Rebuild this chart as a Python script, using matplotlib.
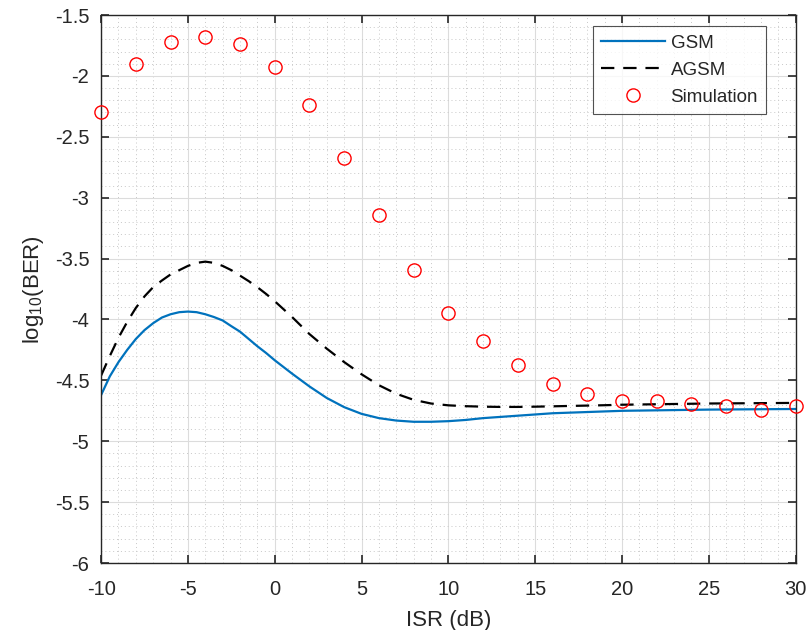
import numpy as np
import matplotlib
matplotlib.use('Agg')
import matplotlib.pyplot as plt
from matplotlib.ticker import MultipleLocator, FormatStrFormatter

# ISR axis (dB): half-dB steps over the peak, then 1 dB steps
isr = np.concatenate([np.arange(-10, 0, 0.5), np.arange(0, 31)])

# analytical curves
gsm = [-4.62, -4.467, -4.35, -4.25, -4.16, -4.087, -4.03, -3.984, -3.957, -3.94,
       -3.935, -3.94, -3.957, -3.98, -4.008, -4.055, -4.10, -4.16, -4.22, -4.275,
       -4.335, -4.445, -4.55, -4.645, -4.72, -4.775, -4.81, -4.83, -4.84, -4.84,
       -4.835, -4.825, -4.81, -4.80, -4.79, -4.78, -4.77, -4.765, -4.76, -4.755,
       -4.75, -4.748, -4.746, -4.744, -4.742, -4.74, -4.739, -4.738, -4.737, -4.736,
       -4.735]
agsm = [-4.46, -4.30, -4.15, -4.02, -3.905, -3.81, -3.734, -3.68, -3.63, -3.595,
        -3.56, -3.535, -3.525, -3.535, -3.56, -3.595, -3.64, -3.685, -3.735, -3.79,
        -3.85, -3.98, -4.12, -4.24, -4.35, -4.45, -4.54, -4.61, -4.66, -4.69,
        -4.705, -4.712, -4.716, -4.718, -4.718, -4.716, -4.713, -4.71, -4.707, -4.704,
        -4.70, -4.698, -4.696, -4.694, -4.692, -4.69, -4.689, -4.688, -4.687, -4.686,
        -4.685]

# simulation points
isr_sim = list(range(-10, 31, 2))
sim = [-2.30, -1.90, -1.72, -1.68, -1.74, -1.93, -2.24, -2.67, -3.14, -3.59,
       -3.95, -4.18, -4.37, -4.53, -4.61, -4.67, -4.67, -4.69, -4.71, -4.74,
       -4.71]

plt.rcParams['font.family'] = ['Liberation Sans', 'DejaVu Sans']
plt.rcParams['mathtext.default'] = 'regular'
plt.rcParams['axes.unicode_minus'] = False

text_col = '#262626'
fig = plt.figure(figsize=(8.09, 6.3), dpi=100)
ax = fig.add_axes([0.125, 0.1063, 0.8585, 0.8698])

ax.plot(isr, gsm, color='#0072BD', lw=1.6, label='GSM')
ax.plot(isr, agsm, color='black', lw=1.6, ls=(0, (6, 4)), label='AGSM')
ax.plot(isr_sim, sim, ls='none', marker='o', ms=9.5, mfc='none', mec='red',
        mew=1.0, label='Simulation', clip_on=False, zorder=5)

ax.set_xlim(-10, 30)
ax.set_ylim(-6, -1.5)
ax.xaxis.set_major_locator(MultipleLocator(5))
ax.xaxis.set_minor_locator(MultipleLocator(1))
ax.yaxis.set_major_locator(MultipleLocator(0.5))
ax.yaxis.set_minor_locator(MultipleLocator(0.1))
ax.xaxis.set_major_formatter(FormatStrFormatter('%g'))
ax.yaxis.set_major_formatter(FormatStrFormatter('%g'))

ax.grid(which='major', color='#dcdcdc', lw=0.8, ls='-')
ax.grid(which='minor', color='#c8c8c8', lw=0.7, ls=(0, (1, 3)))
ax.set_axisbelow(True)

ax.tick_params(which='both', direction='in', top=True, right=True,
               colors=text_col, labelsize=14.5)
ax.tick_params(axis='x', pad=12)
ax.tick_params(axis='y', pad=8.5)
ax.tick_params(which='major', length=6, width=1.2)
ax.tick_params(which='minor', length=0)
for sp in ax.spines.values():
    sp.set_color(text_col)
    sp.set_linewidth(1.0)

ax.set_xlabel('ISR (dB)', fontsize=16, color=text_col, labelpad=8)
ax.set_ylabel('log$_{10}$(BER)', fontsize=16, color=text_col, labelpad=6)

leg = ax.legend(loc='upper right', bbox_to_anchor=(0.958, 0.98), fontsize=13.5,
                frameon=True, fancybox=False, edgecolor='#262626',
                handlelength=3.4, handletextpad=0.3, borderpad=0.45,
                labelspacing=0.53, borderaxespad=0)
leg.get_frame().set_linewidth(0.8)
for t in leg.get_texts():
    t.set_color(text_col)

fig.savefig('out.png', dpi=100)
